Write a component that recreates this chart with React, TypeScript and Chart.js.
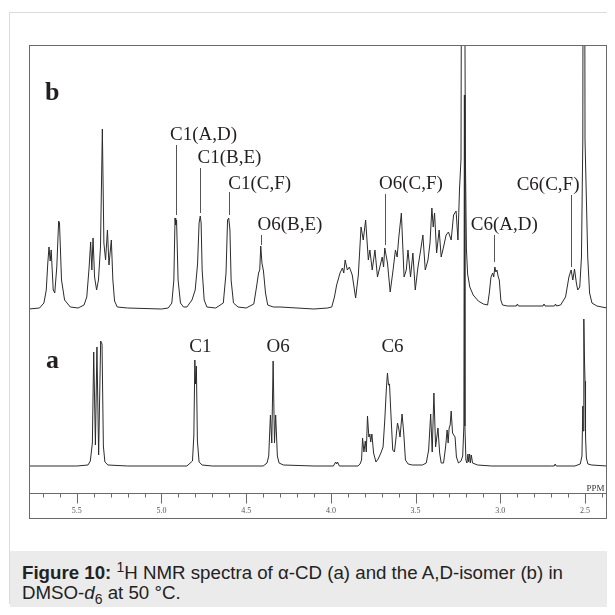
import React, { useEffect, useRef } from "react";
import { Chart, registerables } from "chart.js";

Chart.register(...registerables);

// ---------- data ----------
// spectrum (a): alpha-CD  (chemical shift in ppm, intensity a.u.)
const aPpm = [
  5.782, 5.5, 5.434, 5.42, 5.408, 5.4, 5.39, 5.381, 5.371, 5.359, 5.351, 5.343, 5.334, 5.316, 5.2,
  4.85, 4.817, 4.809, 4.803, 4.799, 4.794, 4.788, 4.778, 4.76, 4.7,
  4.4, 4.377, 4.367, 4.357, 4.349, 4.341, 4.333, 4.326, 4.316, 4.306, 4.28, 4.1,
  3.985, 3.972, 3.966, 3.961, 3.95,
  3.84, 3.828, 3.819, 3.813, 3.805, 3.797, 3.791, 3.784, 3.776, 3.77, 3.765, 3.758, 3.748, 3.734,
  3.721, 3.705, 3.692, 3.682, 3.672, 3.666, 3.66, 3.654, 3.646, 3.635, 3.625, 3.617, 3.607, 3.6,
  3.592, 3.58, 3.57, 3.56, 3.544, 3.52, 3.46,
  3.437, 3.423, 3.411, 3.402, 3.392, 3.382, 3.368, 3.358, 3.349, 3.335, 3.323, 3.314, 3.308, 3.302,
  3.296, 3.29, 3.282, 3.275, 3.267, 3.259, 3.247, 3.232, 3.222, 3.215, 3.212, 3.209, 3.203, 3.197,
  3.191, 3.187, 3.181, 3.177, 3.171, 3.164, 3.134, 3.05,
  2.7, 2.682, 2.676, 2.67, 2.56,
  2.528, 2.518, 2.513, 2.511, 2.508, 2.506, 2.503, 2.5, 2.497, 2.492, 2.483, 2.46, 2.371,
];
const aInt = [
  0, 0, 1, 5, 23, 114, 21, 119, 11, 125, 122, 20, 4, 1, 0,
  0, 5, 30, 106, 82, 100, 25, 4, 1, 0,
  0, 3, 10, 51, 23, 105, 23, 51, 10, 3, 1, 0,
  0, 4, 2, 4, 0,
  0, 2, 6, 28, 14, 25, 14, 50, 29, 32, 24, 32, 13, 4,
  7, 13, 19, 46, 79, 93, 81, 82, 53, 16, 14, 26, 43, 38,
  29, 52, 33, 6, 2, 1, 1,
  3, 16, 52, 14, 73, 19, 38, 13, 3, 3, 19, 36, 23, 38,
  41, 55, 33, 31, 29, 9, 3, 5, 10, 40, 371, 40, 6, 3,
  12, 4, 12, 3, 11, 3, 1, 0,
  0, 0, 2, 0, 0,
  2, 10, 60, 35, 115, 147, 105, 85, 30, 8, 2, 1, 0,
];

// spectrum (b): A,D-isomer
const bPpm = [
  5.782, 5.72, 5.694, 5.68, 5.671, 5.664, 5.657, 5.651, 5.639, 5.63, 5.618, 5.607, 5.602, 5.59, 5.572,
  5.538, 5.492, 5.457, 5.441, 5.427, 5.418, 5.411, 5.404, 5.395, 5.383, 5.372, 5.36, 5.349, 5.34,
  5.33, 5.319, 5.31, 5.296, 5.287, 5.277, 5.261, 5.2, 5.0,
  4.96, 4.939, 4.927, 4.92, 4.916, 4.911, 4.902, 4.888, 4.87, 4.85,
  4.82, 4.801, 4.787, 4.778, 4.771, 4.766, 4.76, 4.748, 4.732, 4.68,
  4.635, 4.619, 4.61, 4.603, 4.596, 4.589, 4.575, 4.548, 4.5,
  4.455, 4.439, 4.427, 4.42, 4.414, 4.407, 4.398, 4.386, 4.373, 4.34, 4.3, 4.2, 4.1, 4.02,
  3.995, 3.979, 3.966, 3.946, 3.932, 3.924, 3.916, 3.903, 3.891, 3.874, 3.854, 3.838, 3.822, 3.809,
  3.795, 3.779, 3.77, 3.756, 3.74, 3.725, 3.711, 3.697, 3.689, 3.682, 3.666, 3.65, 3.633, 3.619,
  3.609, 3.599, 3.584, 3.568, 3.555, 3.545, 3.53, 3.516, 3.502, 3.486, 3.47, 3.457, 3.443, 3.427,
  3.415, 3.404, 3.396, 3.388, 3.376, 3.361, 3.349, 3.335, 3.32, 3.306, 3.29, 3.276, 3.261, 3.25,
  3.241, 3.232, 3.222, 3.206, 3.2, 3.193, 3.18, 3.16, 3.13, 3.1, 3.075,
  3.065, 3.055, 3.045, 3.039, 3.032, 3.026, 3.02, 3.012, 3.006, 2.997, 2.987, 2.957,
  2.905, 2.899, 2.893, 2.748, 2.742, 2.736, 2.68, 2.674, 2.668, 2.644,
  2.615, 2.595, 2.582, 2.572, 2.562, 2.551, 2.543, 2.531, 2.521, 2.513, 2.507, 2.5, 2.484, 2.473,
  2.459, 2.43, 2.371,
];
const bInt = [
  0, 1, 6, 19, 46, 62, 48, 59, 19, 16, 42, 88, 86, 29, 9,
  2, 1, 4, 12, 42, 67, 39, 71, 32, 19, 29, 62, 180, 66,
  49, 79, 44, 69, 29, 8, 2, 1, 0,
  1, 6, 29, 91, 84, 89, 29, 6, 2, 2,
  9, 19, 45, 86, 93, 86, 39, 9, 2, 1,
  6, 36, 89, 91, 79, 29, 6, 2, 1,
  5, 22, 36, 39, 63, 46, 38, 16, 4, 2, 2, 1, 0, 1,
  2, 12, 24, 36, 41, 36, 49, 39, 42, 34, 11, 34, 82, 69,
  89, 49, 59, 39, 59, 32, 42, 52, 42, 61, 46, 17, 39, 59,
  52, 72, 96, 32, 39, 59, 32, 56, 19, 42, 59, 74, 39, 49,
  66, 101, 82, 96, 56, 79, 52, 62, 74, 77, 69, 94, 98, 69,
  119, 150, 900, 150, 60, 35, 22, 14, 8, 5, 4,
  16, 32, 36, 32, 42, 37, 39, 32, 29, 9, 4, 3,
  3, 5, 3, 3, 5, 3, 3, 5, 3, 4,
  12, 32, 39, 29, 40, 26, 19, 22, 52, 169, 900, 169, 52, 16,
  6, 3, 1,
];

// peak assignments
const bLabelText = ["C1(A,D)", "C1(B,E)", "C1(C,F)", "O6(B,E)", "O6(C,F)", "C6(A,D)", "C6(C,F)"];
const bLabelPpm = [4.913, 4.772, 4.603, 4.414, 3.683, 3.036, 2.582];
const aLabelText = ["C1", "O6", "C6"];
const aLabelPpm = [4.8, 4.341, 3.666];

// axis
const tickLabels = ["5.5", "5.0", "4.5", "4.0", "3.5", "3.0", "2.5"];
const ppmMax = 5.782;
const ppmMin = 2.371;

// ---------- layout / styling (not data) ----------
const B_OFFSET = 157;
const SERIF = "'Liberation Serif', 'Times New Roman', serif";
// text level, marker top, marker bottom (above the b baseline), x shift in px, alignment
const B_ANNOT = [
  { t: 169, m1: 164, m2: 94, dx: -6.5, al: "left" },
  { t: 146, m1: 141, m2: 96, dx: -3, al: "left" },
  { t: 120, m1: 117, m2: 94, dx: -1.2, al: "left" },
  { t: 79, m1: 74, m2: 64, dx: -4, al: "left" },
  { t: 120, m1: 115, m2: 64, dx: -6.5, al: "left" },
  { t: 79, m1: 74, m2: 47, dx: -23.7, al: "left" },
  { t: 119, m1: 114, m2: 42, dx: 8, al: "right" },
];
const A_TEXT_LEVEL = 114;

const decorPlugin = {
  id: "decor",
  afterDraw(chart: any) {
    const { ctx, chartArea } = chart;
    const x = chart.scales.x;
    const y = chart.scales.y;
    ctx.save();
    // frame
    ctx.strokeStyle = "#6a6a6a";
    ctx.lineWidth = 1;
    const L = Math.round(chartArea.left) + 0.5;
    const R = Math.round(chartArea.right) - 0.5;
    const T = Math.round(chartArea.top) + 0.5;
    const Bax = Math.round(chartArea.bottom) + 0.5;
    const Bfr = Math.round(x.bottom) - 0.5;
    ctx.strokeRect(L, T, R - L, Bfr - T);
    ctx.beginPath();
    ctx.moveTo(L, Bax);
    ctx.lineTo(R, Bax);
    ctx.stroke();
    // tick marks
    ctx.beginPath();
    for (const t of x.ticks) {
      const px = Math.round(x.getPixelForValue(t.value)) + 0.5;
      const major = tickLabels.includes(Number(t.value).toFixed(1));
      ctx.moveTo(px, Bax);
      ctx.lineTo(px, Bax + (major ? 10 : 4));
    }
    ctx.stroke();
    // PPM
    ctx.fillStyle = "#333";
    ctx.font = `9px ${SERIF}`;
    ctx.textAlign = "right";
    ctx.textBaseline = "alphabetic";
    ctx.fillText("PPM", R - 2, Bax - 3);

    // trace letters
    ctx.font = `bold 26px ${SERIF}`;
    ctx.textAlign = "left";
    ctx.fillStyle = "#231f20";
    ctx.fillText("b", chartArea.left + 16, y.getPixelForValue(B_OFFSET + 209));
    ctx.fillText("a", chartArea.left + 17, y.getPixelForValue(98));

    // labels of spectrum b with marker lines
    ctx.font = `19px ${SERIF}`;
    ctx.strokeStyle = "#555";
    bLabelText.forEach((txt, i) => {
      const an = B_ANNOT[i];
      const px = Math.round(x.getPixelForValue(bLabelPpm[i])) + 0.5;
      ctx.beginPath();
      ctx.moveTo(px, y.getPixelForValue(B_OFFSET + an.m1));
      ctx.lineTo(px, y.getPixelForValue(B_OFFSET + an.m2));
      ctx.stroke();
      ctx.textAlign = an.al as CanvasTextAlign;
      ctx.fillText(txt, px + an.dx, y.getPixelForValue(B_OFFSET + an.t));
    });
    // labels of spectrum a
    ctx.textAlign = "center";
    aLabelText.forEach((txt, i) => {
      const px = x.getPixelForValue(aLabelPpm[i]);
      ctx.fillText(txt, px + 5, y.getPixelForValue(A_TEXT_LEVEL));
    });
    ctx.restore();
  },
};

export default function App() {
  const ref = useRef<HTMLCanvasElement | null>(null);

  useEffect(() => {
    if (!ref.current) return;
    const aData = aPpm.map((p, i) => ({ x: p, y: aInt[i] }));
    const bData = bPpm.map((p, i) => ({ x: p, y: bInt[i] + B_OFFSET }));
    const chart = new Chart(ref.current, {
      type: "line",
      data: {
        datasets: [
          { label: "b", data: bData, borderColor: "#2b2b2b", borderWidth: 1, pointRadius: 0, tension: 0, fill: false },
          { label: "a", data: aData, borderColor: "#2b2b2b", borderWidth: 1, pointRadius: 0, tension: 0, fill: false },
        ],
      },
      options: {
        animation: false,
        responsive: true,
        maintainAspectRatio: false,
        layout: { padding: { left: 21, top: 37, right: 5, bottom: 29 } },
        plugins: { legend: { display: false }, tooltip: { enabled: false } },
        scales: {
          x: {
            type: "linear",
            reverse: true,
            min: ppmMin,
            max: ppmMax,
            grid: { display: false, drawTicks: false },
            border: { display: false },
            afterFit: (s: any) => {
              s.height = 26;
            },
            ticks: {
              stepSize: 0.1,
              includeBounds: false,
              autoSkip: false,
              maxRotation: 0,
              minRotation: 0,
              padding: 13,
              color: "#555",
              font: { family: SERIF, size: 8 },
              callback: (v: any) => {
                const s = Number(v).toFixed(1);
                return tickLabels.includes(s) ? s : "";
              },
            },
          },
          y: { type: "linear", display: false, min: -27, max: 421 },
        },
      },
      plugins: [decorPlugin],
    });
    return () => chart.destroy();
  }, []);

  return (
    <div style={{ position: "relative", width: 607, height: 599, overflow: "hidden" }}>
      <div
        style={{
          position: "absolute",
          left: 1,
          top: 4,
          width: 660,
          height: 592,
          border: "1px solid #dcdcdc",
          boxSizing: "border-box",
        }}
      />
      <div style={{ position: "absolute", left: 0, top: 0, width: 607, height: 540 }}>
        <canvas ref={ref} />
      </div>
      <div
        style={{
          position: "absolute",
          left: 2,
          top: 543,
          width: 660,
          height: 56,
          background: "#ebebeb",
        }}
      >
        <div
          style={{
            position: "absolute",
            left: 12,
            top: 12,
            width: 585,
            fontFamily: "'Liberation Sans', Arial, sans-serif",
            fontSize: 18.7,
            lineHeight: "20px",
            color: "#222",
          }}
        >
          <b>Figure 10:</b> <sup style={{ fontSize: "0.75em", lineHeight: 0 }}>1</sup>H NMR spectra of α-CD (a) and
          the A,D-isomer (b) in DMSO-<i>d</i>
          <sub style={{ fontSize: "0.75em", lineHeight: 0 }}>6</sub> at 50 °C.
        </div>
      </div>
    </div>
  );
}
